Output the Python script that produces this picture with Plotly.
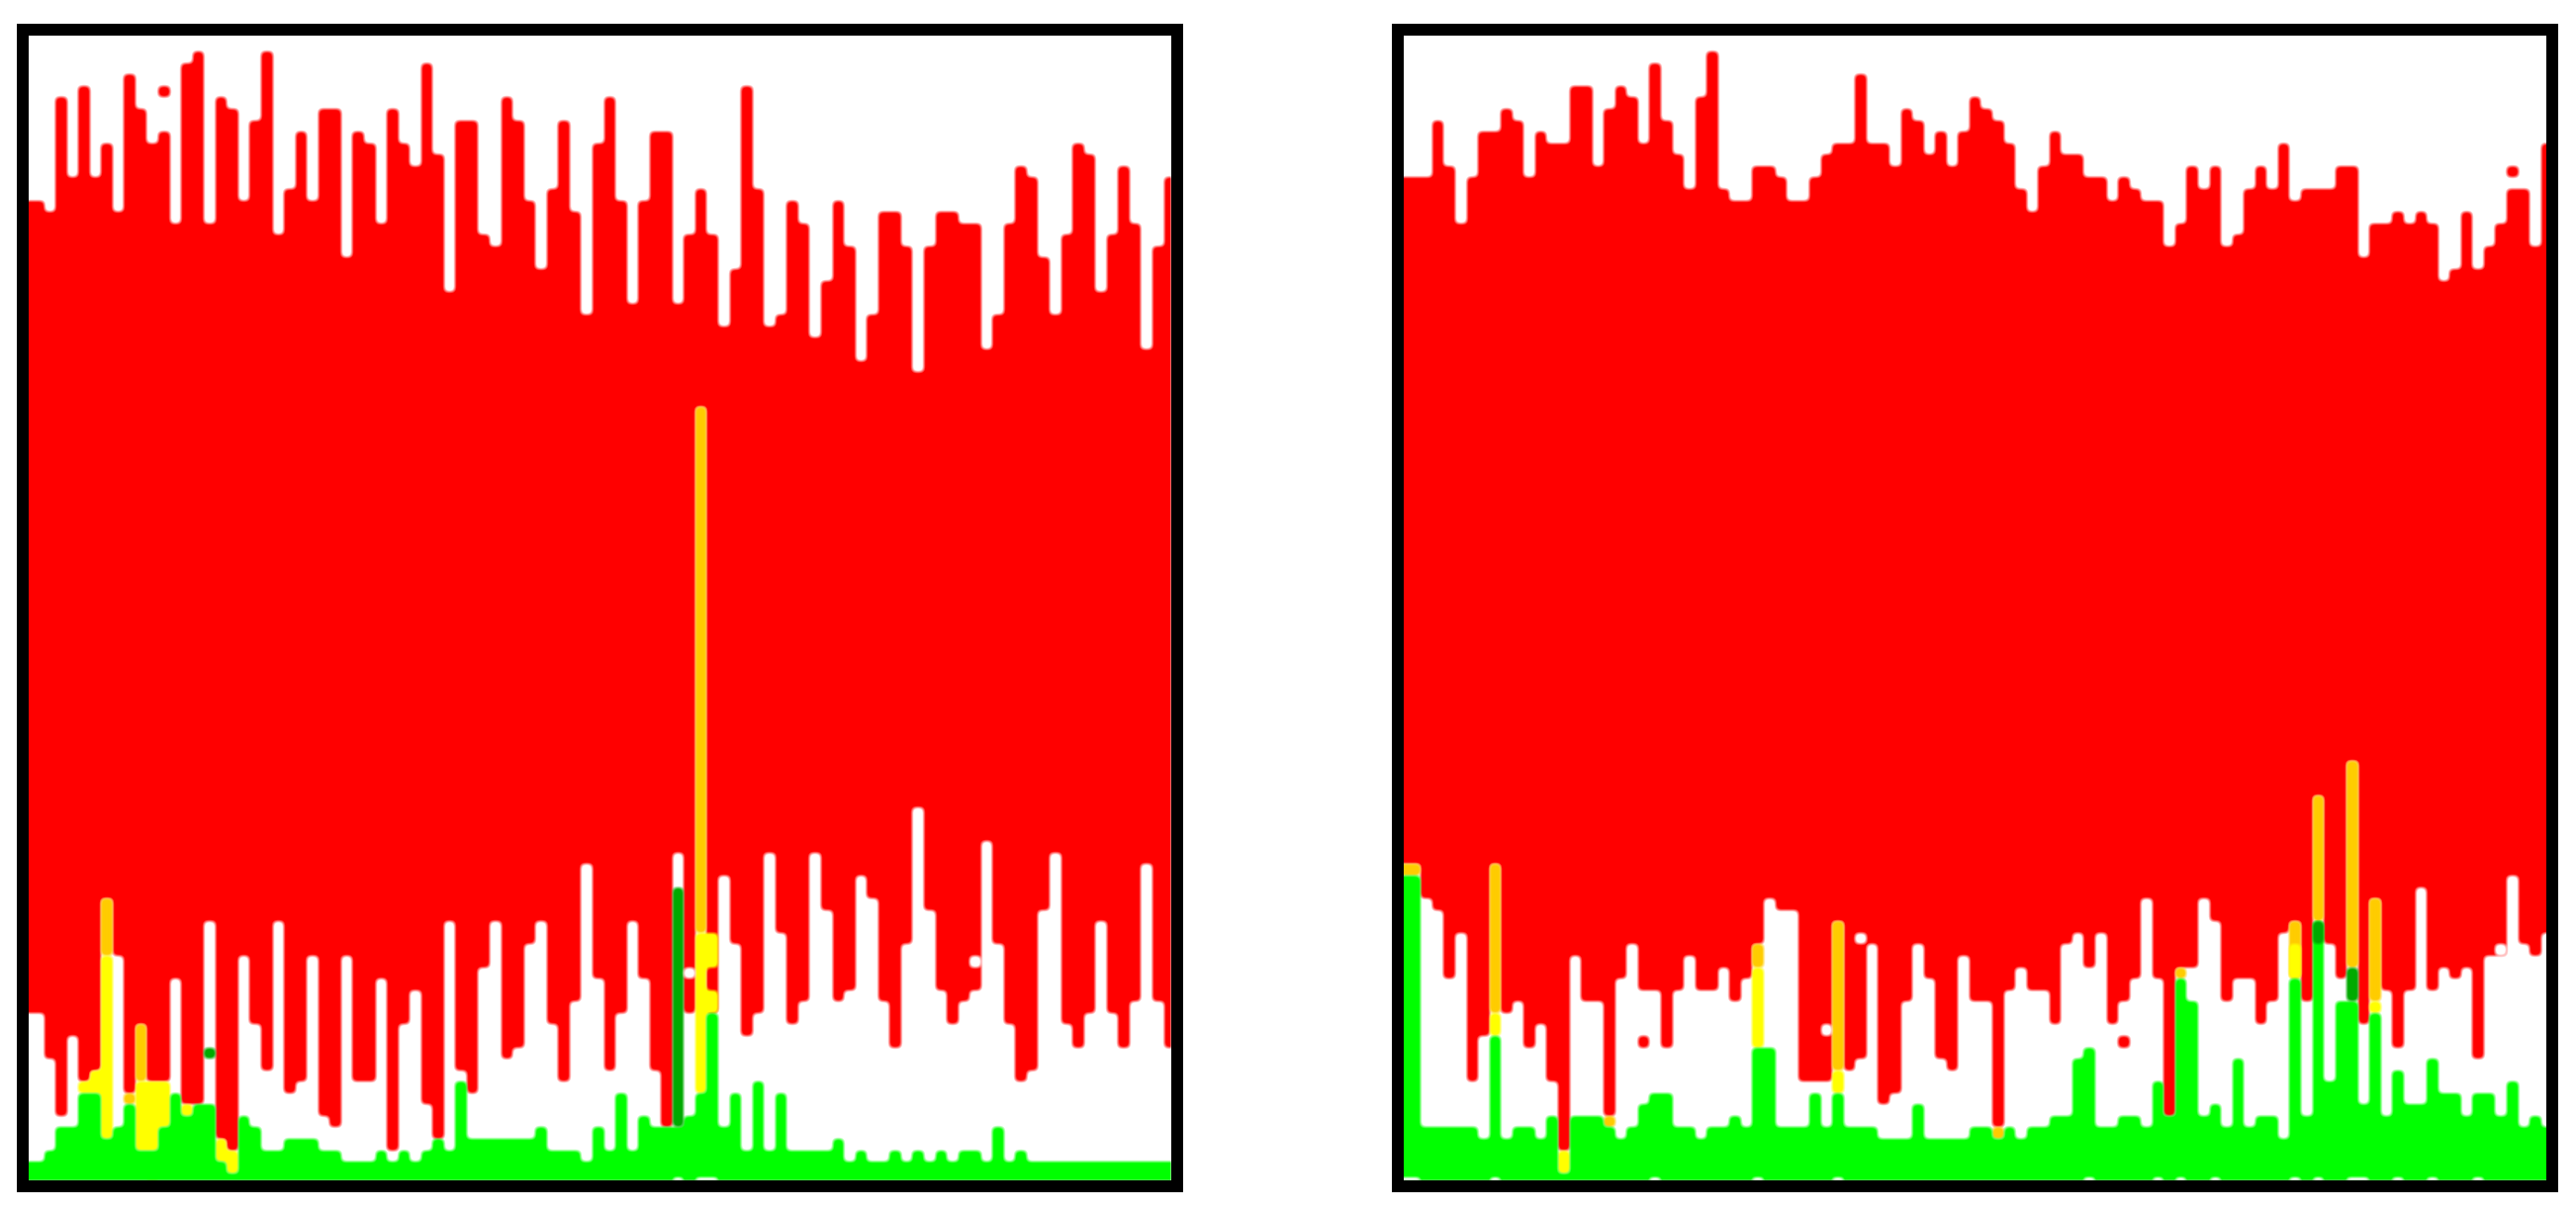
import plotly.graph_objects as go

# Row numbers run from the top of each panel; one column per entry (k = 0..100)
p1_red_top = [14,14,15,5,12,4,12,9,15,3,6,9,8,16,2,1,16,5,6,14,7,1,17,13,8,14,6,6,19,8,9,16,6,9,11,2,10,22,7,7,17,18,5,7,14,20,13,7,15,24,9,5,
              14,23,14,8,8,23,17,13,17,25,20,4,13,25,24,14,16,26,21,14,18,28,24,15,15,18,29,18,15,15,16,16,27,24,16,11,12,19,24,17,9,10,22,17,11,16,27,18,12]
p1_red_bottom = [85,85,89,94,87,91,90,75,80,92,86,91,91,82,93,93,77,96,97,80,86,90,77,92,91,80,94,95,80,91,91,82,97,86,83,93,96,77,90,92,81,77,89,88,79,77,86,91,84,72,82,90,
                 85,77,82,90,95,71,85,32,85,73,79,87,85,71,78,86,84,71,76,84,83,73,75,84,88,79,67,76,83,86,84,83,70,79,86,91,90,76,71,86,88,85,77,85,88,84,72,84,88]
p1_green_top = [98,98,97,95,95,92,92,96,95,93,97,97,95,92,94,93,93,98,99,94,95,97,97,96,96,96,97,97,98,98,98,97,98,97,98,97,96,97,91,96,96,96,96,96,96,95,97,97,97,98,95,97,
                92,97,94,95,95,95,94,92,85,95,92,97,91,97,92,97,97,97,97,96,98,97,98,98,97,98,97,98,97,98,97,97,98,95,98,97,98,98,98,98,98,98,98,98,98,98,98,98,98]
p1_orange = [(7,75,80),(9,92,93),(10,86,91),(59,32,78)]
p1_yellow = [(5,91,92),(6,90,92),(7,80,96),(10,91,97),(11,91,97),(12,91,95),(14,93,94),(17,96,98),(18,97,99),(59,78,92),(60,78,81),(60,83,85),(11,99,99.6)]
p1_dark = [(16,88,89),(57,74,95)]
p1_holes = [(58,81,82),(83,80,81),(57,99.4,104),(59,99.4,104),(60,99.4,104)]
p1_dots = [(12,4,5)]

p2_red_top = [12,12,12,7,11,16,12,8,8,6,7,12,8,9,9,4,4,11,6,4,5,9,2,7,10,13,5,1,13,14,14,11,11,12,14,14,12,10,9,9,3,9,9,11,6,7,10,8,11,8,5,6,
              7,9,13,15,11,8,10,10,12,12,14,12,13,14,14,18,16,11,13,11,18,17,13,11,13,9,14,13,13,13,11,11,19,16,16,15,16,15,16,21,20,15,20,18,16,13,13,18,9]
p2_red_bottom = [72,72,75,76,82,78,91,87,72,85,84,88,86,91,97,80,84,84,94,82,79,83,83,88,83,80,83,83,81,84,82,79,75,76,76,91,91,91,77,90,89,79,93,92,84,79,82,89,90,80,84,84,
                 95,83,81,83,83,86,79,78,81,78,86,84,82,75,82,94,81,81,75,77,84,82,82,86,84,78,77,84,66,79,82,63,86,75,83,88,83,74,83,81,82,81,89,80,80,73,79,80,78]
p2_green_top = [73,73,95,95,95,95,95,96,87,96,95,95,96,94,99,94,94,94,95,96,95,93,92,92,95,95,96,95,95,94,95,88,88,95,95,95,92,95,92,95,95,95,96,96,96,93,96,96,96,96,95,95,
                96,95,96,95,95,94,94,89,88,95,95,94,94,95,91,94,82,84,94,93,95,89,95,94,94,96,82,94,77,91,84,84,93,85,94,90,93,93,89,92,92,94,92,92,94,91,95,94,95]
p2_orange = [(0,72,73),(1,72,73),(8,72,85),(18,94,95),(31,79,81),(38,77,90),(52,95,96),(68,81,82),(78,77,82),(80,66,77),(83,63,81),(85,75,84)]
p2_yellow = [(8,85,87),(14,97,99),(31,81,88),(38,90,92),(78,79,82),(85,84,85)]
p2_dark = [(80,77,79),(83,81,84)]
p2_holes = [(37,86,87),(40,78,79),(96,79,80),(0,99.4,104),(1,99.4,104),(8,99.4,104),(22,99.4,104),(31,99.4,104),(38,99.4,104),(60,99.4,104),
            (66,99.4,104),(68,99.4,104),(71,99.4,104),(78,99.4,104),(80,99.4,104),(83,99.4,104),(84,99.4,104),(87,99.4,104),(90,99.4,104),(94,99.4,104)]
p2_dots = [(21,87,88),(63,87,88),(97,11,12)]

RED, GREEN, YELLOW, ORANGE, DARK = "#ff0000", "#00ff00", "#ffff00", "#ffcc00", "#00aa00"


def seg_trace(segs, color, ax):
    return go.Bar(x=[s[0] for s in segs], base=[s[1] for s in segs], y=[s[2] - s[1] for s in segs],
                  width=1, marker=dict(color=color, line=dict(width=0)), xaxis=f"x{ax}", yaxis=f"y{ax}", showlegend=False)


def add_panel(fig, ax, top, bottom, green, orange, yellow, dark, holes, dots):
    k = list(range(len(top)))
    red = [(i, t, b) for i, t, b in zip(k, top, bottom)]
    grn = [(i, g, 104) for i, g in zip(k, green)]
    fig.add_trace(seg_trace(red + dots, RED, ax))
    fig.add_trace(seg_trace(orange, ORANGE, ax))
    fig.add_trace(seg_trace(yellow, YELLOW, ax))
    fig.add_trace(seg_trace(grn, GREEN, ax))
    fig.add_trace(seg_trace(dark, DARK, ax))
    fig.add_trace(seg_trace(holes, "#ffffff", ax))


fig = go.Figure()
add_panel(fig, "", p1_red_top, p1_red_bottom, p1_green_top, p1_orange, p1_yellow, p1_dark, p1_holes, p1_dots)
add_panel(fig, "2", p2_red_top, p2_red_bottom, p2_green_top, p2_orange, p2_yellow, p2_dark, p2_holes, p2_dots)

W, H = 2604, 1226
frame = dict(showline=True, mirror=True, linecolor="black", linewidth=12, showgrid=False, zeroline=False,
             showticklabels=False, ticks="")
fig.update_layout(
    width=W, height=H, margin=dict(l=0, r=0, t=0, b=0), barmode="overlay", bargap=0,
    paper_bgcolor="white", plot_bgcolor="white", showlegend=False,
    xaxis=dict(domain=[28.5 / W, 1183.6 / W], range=[0.156, 100.156], **frame),
    xaxis2=dict(domain=[1418.6 / W, 2574 / W], range=[0, 100], **frame),
    yaxis=dict(domain=[1 - 1192.7 / H, 1 - 36 / H], range=[99.6, -0.4], **frame),
    yaxis2=dict(domain=[1 - 1192.7 / H, 1 - 36 / H], range=[99.6, -0.4], anchor="x2", **frame),
)
post = """
document.body.style.margin='0';
var svg=document.querySelector('svg.main-svg');
var ns='http://www.w3.org/2000/svg';
var f=document.createElementNS(ns,'filter');
f.setAttribute('id','soft');f.setAttribute('filterUnits','userSpaceOnUse');
f.setAttribute('x','-50');f.setAttribute('y','-50');f.setAttribute('width','2800');f.setAttribute('height','1400');
f.setAttribute('color-interpolation-filters','sRGB');
var b=document.createElementNS(ns,'feGaussianBlur');b.setAttribute('stdDeviation','2.8');f.appendChild(b);
var t=document.createElementNS(ns,'feComponentTransfer');
var a=document.createElementNS(ns,'feFuncA');a.setAttribute('type','linear');a.setAttribute('slope','2');a.setAttribute('intercept','-0.5');
t.appendChild(a);f.appendChild(t);
svg.appendChild(f);
document.querySelectorAll('.barlayer .trace.bars').forEach(function(g){g.style.filter='url(#soft)';});
"""
fig.write_html("out.html", config={"displayModeBar": False}, post_script=post)
